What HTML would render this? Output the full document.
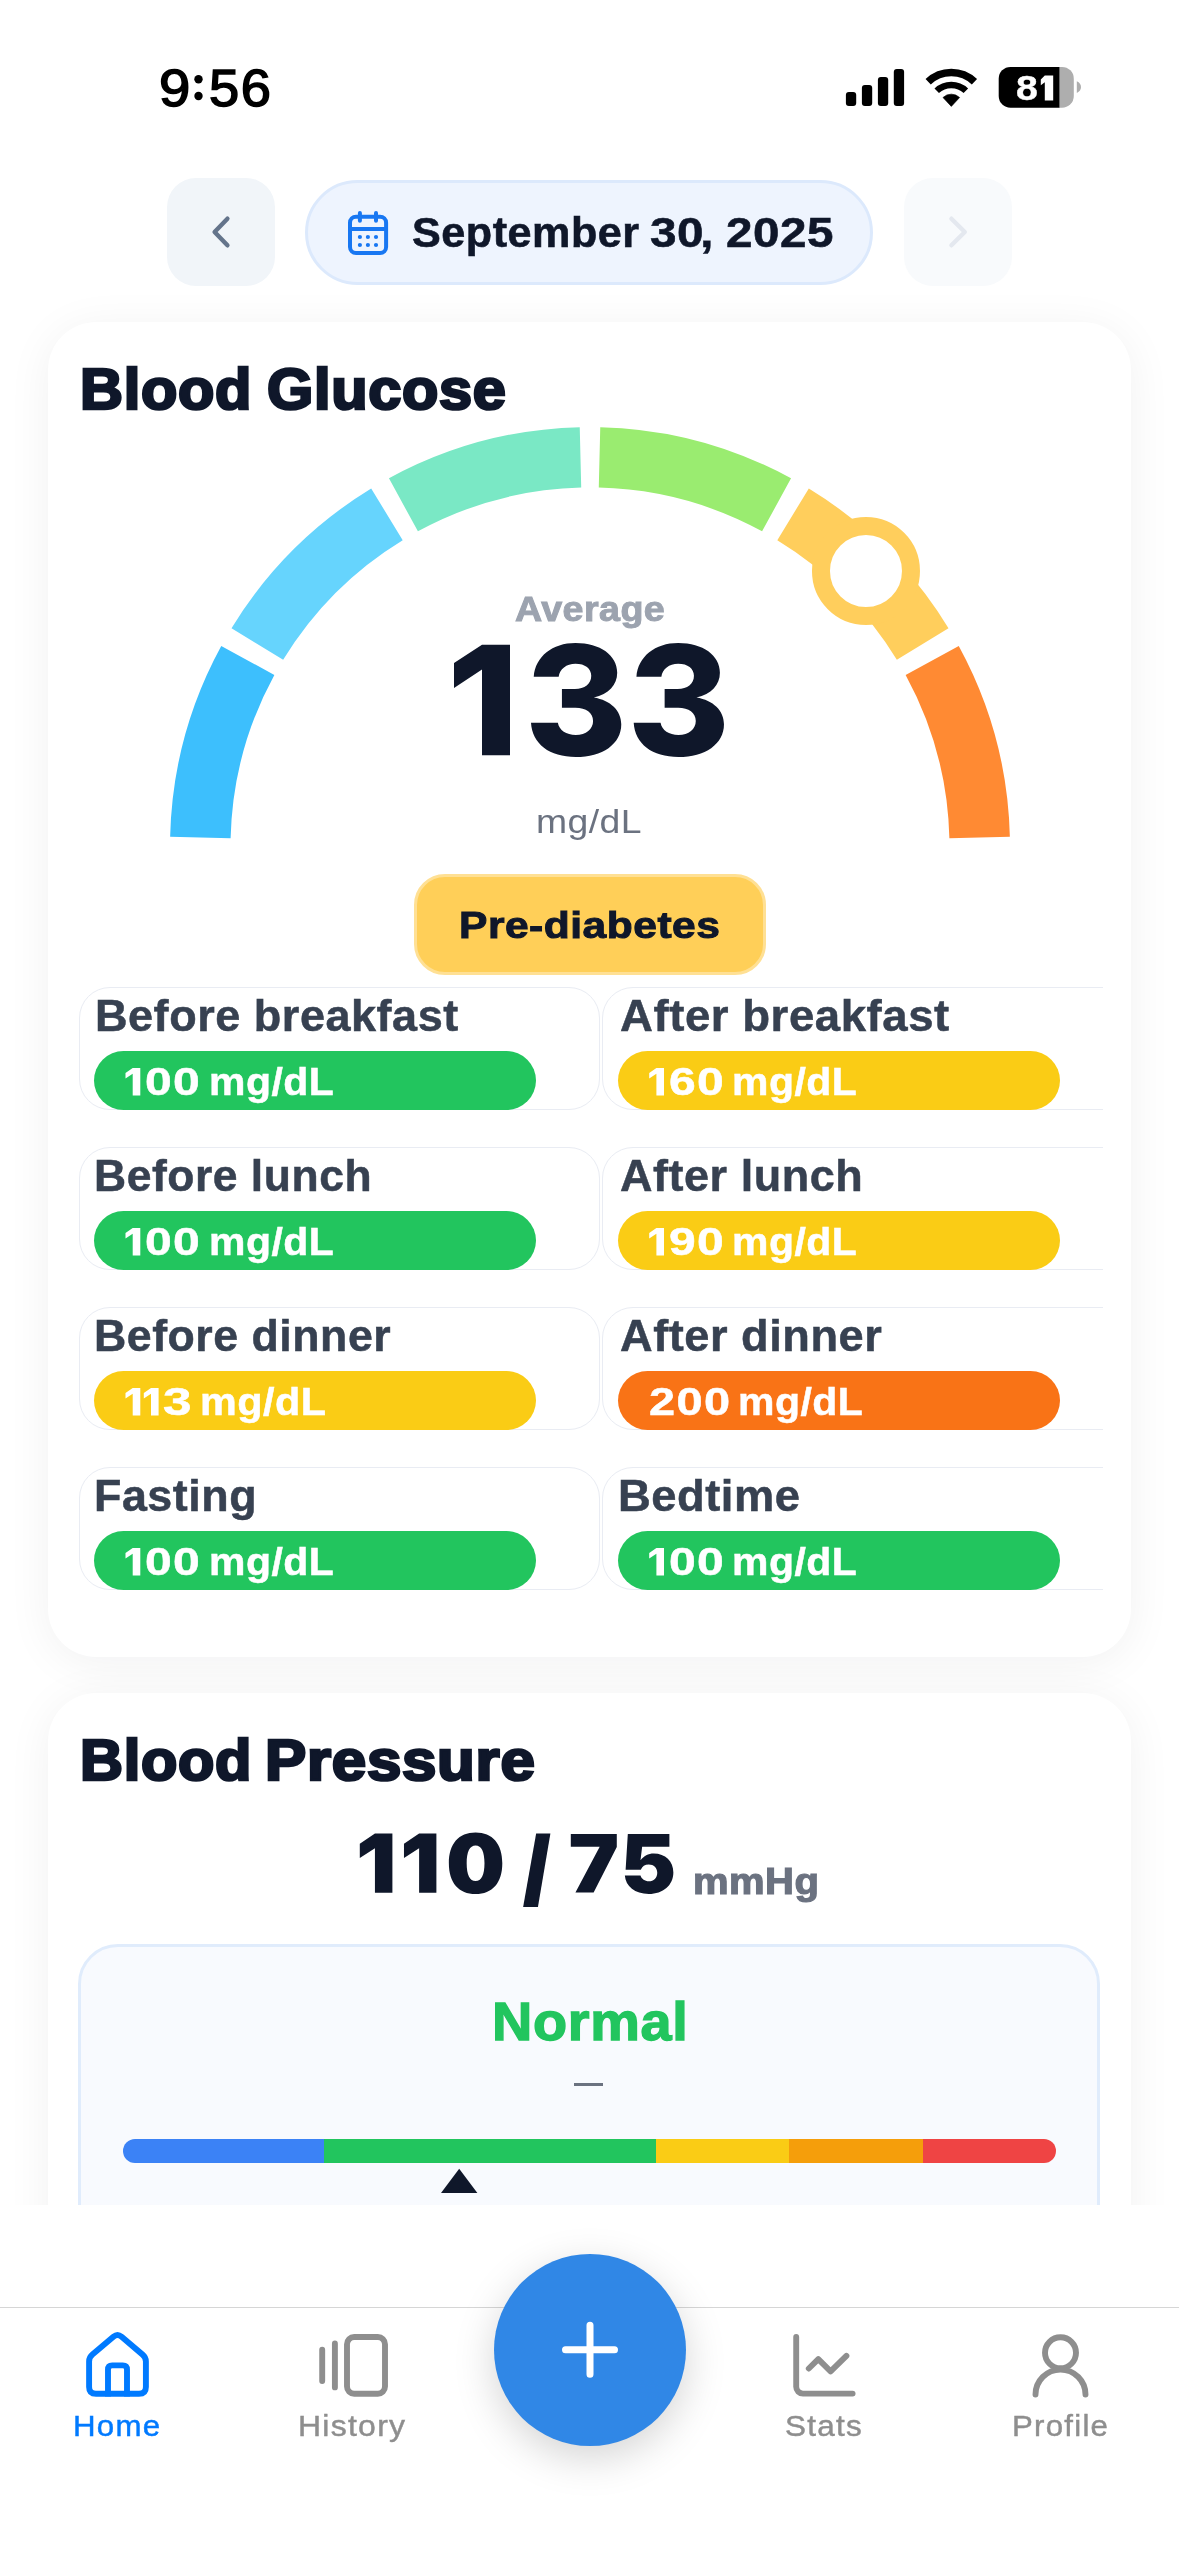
<!DOCTYPE html>
<html><head><meta charset="utf-8"><title>Health</title>
<style>
html,body{margin:0;padding:0;background:#fff;overflow:hidden;}
body{width:1179px;height:2556px;position:relative;overflow:hidden;font-family:"Liberation Sans",sans-serif;}
.t{position:absolute;white-space:nowrap;display:block;will-change:transform;}
.abs{position:absolute;}
.card{position:absolute;left:48px;width:1083px;background:#fff;border-radius:48px;box-shadow:0 6px 46px rgba(15,23,42,0.06);}
.tile{position:absolute;height:123px;box-sizing:border-box;border:1.3px solid #E9ECF3;border-radius:31px;background:#fff;}
.pill{position:absolute;width:442px;height:59px;border-radius:30px;}
.clip{position:absolute;left:48px;top:322px;width:1054.5px;height:1334px;overflow:hidden;}
</style></head><body>
<!-- status bar -->
<svg class="abs" style="left:0;top:0" width="1179" height="160" viewBox="0 0 1179 160">
 <circle cx="198.5" cy="79.2" r="4.2" fill="#000"/><circle cx="198.5" cy="96" r="4.2" fill="#000"/>
 <rect x="845.9" y="91.9" width="10.3" height="14.1" rx="3" fill="#000"/>
 <rect x="861.9" y="84.9" width="10.3" height="21.1" rx="3" fill="#000"/>
 <rect x="877.9" y="76.9" width="10.3" height="29.1" rx="3" fill="#000"/>
 <rect x="893.8" y="68.9" width="10.3" height="37.1" rx="3" fill="#000"/>
 <g fill="none" stroke="#000">
  <path stroke-width="7.6" d="M928.17 81.73 A33.6 33.6 0 0 1 974.43 81.73"/>
  <path stroke-width="6.5" d="M936.74 90.76 A21.15 21.15 0 0 1 965.86 90.76"/>
 </g>
 <path d="M951.3 106.4 L943.0 97.5 A11.9 11.9 0 0 1 959.6 97.5Z" fill="#000" stroke="#000" stroke-width="0.6" stroke-linejoin="round"/>
 <defs><clipPath id="bc"><rect x="998.7" y="66.9" width="75.1" height="40.8" rx="11.8"/></clipPath></defs>
 <g clip-path="url(#bc)"><rect x="990" y="60" width="69.7" height="55" fill="#000"/><rect x="1059.7" y="60" width="20" height="55" fill="#AEAEAE"/></g>
 <path d="M1076.8 81.3 C1082.4 83.3 1082.4 90.9 1076.8 92.9Z" fill="#AEAEAE"/>
 <path d="M1044.8 75.6 H1053.2 V100.5 H1044.8 V82.3 L1040.8 85.2 V79.6Z" fill="#fff"/>
</svg>
<!-- date nav -->
<div class="abs" style="left:167px;top:177.7px;width:108.2px;height:108.2px;border-radius:29px;background:#F1F5F9"></div>
<div class="abs" style="left:904px;top:177.7px;width:108.2px;height:108.2px;border-radius:29px;background:#F8FAFC"></div>
<div class="abs" style="left:305px;top:180px;width:568px;height:104.5px;box-sizing:border-box;border-radius:53px;background:#EEF4FE;border:3px solid #DCE9FC"></div>
<svg class="abs" style="left:0;top:160px" width="1179" height="140" viewBox="0 160 1179 140">
 <path d="M227.4 218.7 L214.6 232 L227.4 245.3" fill="none" stroke="#64748B" stroke-width="4.4" stroke-linecap="round" stroke-linejoin="round"/>
 <path d="M951.4 218.7 L964.8 232 L951.4 245.3" fill="none" stroke="#E4E8EF" stroke-width="4.4" stroke-linecap="round" stroke-linejoin="round"/>
 <g fill="none" stroke="#1877F2" stroke-width="4" stroke-linecap="round">
  <rect x="350" y="216.7" width="36.1" height="36.3" rx="6"/>
  <path d="M350 229 H386 M359.9 213 V220.8 M376 213 V220.8"/>
 </g>
 <g fill="#1877F2"><circle cx="359.9" cy="237" r="2.1"/><circle cx="367.9" cy="237" r="2.1"/><circle cx="376" cy="237" r="2.1"/><circle cx="359.9" cy="245" r="2.1"/><circle cx="367.9" cy="245" r="2.1"/><circle cx="376" cy="245" r="2.1"/></g>
</svg>
<!-- card 1 -->
<div class="card" style="top:322px;height:1335px"></div>
<svg class="abs" style="left:0;top:400px" width="1179" height="470" viewBox="0 400 1179 470">
<path fill="#3DBFFD" d="M170.13 836.74 A420 420 0 0 1 221.25 645.95 L274.37 674.91 A359.5 359.5 0 0 0 230.61 838.22Z"/>
<path fill="#66D4FD" d="M231.51 628.18 A420 420 0 0 1 371.18 488.51 L402.70 540.15 A359.5 359.5 0 0 0 283.15 659.70Z"/>
<path fill="#7AE8C5" d="M388.95 478.25 A420 420 0 0 1 579.74 427.13 L581.22 487.61 A359.5 359.5 0 0 0 417.91 531.37Z"/>
<path fill="#9AEC70" d="M600.26 427.13 A420 420 0 0 1 791.05 478.25 L762.09 531.37 A359.5 359.5 0 0 0 598.78 487.61Z"/>
<path fill="#FFCE5C" d="M808.82 488.51 A420 420 0 0 1 948.49 628.18 L896.85 659.70 A359.5 359.5 0 0 0 777.30 540.15Z"/>
<path fill="#FF8A33" d="M958.75 645.95 A420 420 0 0 1 1009.87 836.74 L949.39 838.22 A359.5 359.5 0 0 0 905.63 674.91Z"/>
<circle cx="865.98" cy="571.02" r="45" fill="#fff" stroke="#FFCE5C" stroke-width="18"/>
</svg>
<div class="abs" style="left:414.2px;top:874.3px;width:351.8px;height:100.3px;box-sizing:border-box;border-radius:31px;background:#FFCF58;border:3px solid #FFE094"></div>
<div class="clip"><div style="position:absolute;left:-48px;top:-322px">
<div class="tile" style="left:78.5px;top:987.4px;width:521.7px"></div>
<div class="pill" style="left:93.9px;top:1051.0px;background:#22C55E"></div>
<div class="tile" style="left:602.2px;top:987.4px;width:560px"></div>
<div class="pill" style="left:617.6px;top:1051.0px;background:#FACC15"></div>
<div class="tile" style="left:78.5px;top:1147.4px;width:521.7px"></div>
<div class="pill" style="left:93.9px;top:1211.0px;background:#22C55E"></div>
<div class="tile" style="left:602.2px;top:1147.4px;width:560px"></div>
<div class="pill" style="left:617.6px;top:1211.0px;background:#FACC15"></div>
<div class="tile" style="left:78.5px;top:1307.4px;width:521.7px"></div>
<div class="pill" style="left:93.9px;top:1371.0px;background:#FACC15"></div>
<div class="tile" style="left:602.2px;top:1307.4px;width:560px"></div>
<div class="pill" style="left:617.6px;top:1371.0px;background:#F97316"></div>
<div class="tile" style="left:78.5px;top:1467.4px;width:521.7px"></div>
<div class="pill" style="left:93.9px;top:1531.0px;background:#22C55E"></div>
<div class="tile" style="left:602.2px;top:1467.4px;width:560px"></div>
<div class="pill" style="left:617.6px;top:1531.0px;background:#22C55E"></div>
</div></div>
<!-- card 2 -->
<div class="card" style="top:1693px;height:700px"></div>
<div class="abs" style="left:78.1px;top:1944.2px;width:1021.6px;height:400px;box-sizing:border-box;border-radius:40px;background:#F8FAFE;border:3px solid #E0ECFC"></div>
<div class="abs" style="left:574px;top:2082.9px;width:29.3px;height:3px;background:#6B7280"></div>
<div class="abs" style="left:122.7px;top:2138.8px;width:933.5px;height:24.1px;border-radius:12.1px;overflow:hidden;background:linear-gradient(90deg,#3B82F6 0 200.5px,#22C55E 200.5px 533.2px,#FACC15 533.2px 666.2px,#F59E0B 666.2px 800.4px,#EF4444 800.4px)"></div>
<svg class="abs" style="left:430px;top:2160px" width="60" height="40" viewBox="430 2160 60 40"><path d="M459.2 2168.7 L477.4 2193 L441 2193Z" fill="#0F172A"/></svg>
<!-- bottom bar -->
<div class="abs" style="left:0;top:2204.5px;width:1179px;height:351.5px;background:#fff"></div>
<div class="abs" style="left:0;top:2306.8px;width:1179px;height:1.2px;background:#D6D6D6"></div>
<div class="abs" style="left:494px;top:2254px;width:192px;height:192px;border-radius:50%;background:#3087E6;box-shadow:0 12px 40px rgba(0,0,0,0.17)"></div>
<svg class="abs" style="left:0;top:2300px" width="1179" height="120" viewBox="0 2300 1179 120">
 <path d="M565.5 2349.8 H614.5 M590 2325.3 V2374.3" stroke="#fff" stroke-width="7" stroke-linecap="round"/>
 <g fill="none" stroke="#007AFF" stroke-width="5.9" stroke-linejoin="round">
  <path d="M96 2393.8 H139 Q145.9 2393.8 145.9 2387 V2361.5 Q145.9 2357.3 142.6 2354.6 L121.6 2336.8 Q117.5 2333.3 113.4 2336.8 L92.4 2354.6 Q89.1 2357.3 89.1 2361.5 V2387 Q89.1 2393.8 96 2393.8Z"/>
  <path d="M108 2396.6 V2369.6 Q108 2365.4 112.2 2365.4 H122.8 Q127 2365.4 127 2369.6 V2396.6"/>
 </g>
 <g fill="none" stroke="#8E8E8E" stroke-width="5.9" stroke-linecap="round" stroke-linejoin="round">
  <path d="M322.2 2349.7 V2381 M334.9 2343.4 V2387.4"/>
  <rect x="347" y="2337" width="38" height="56.8" rx="7.2"/>
  <path d="M796.2 2337 V2386.8 a6.8 6.8 0 0 0 6.8 6.8 H852.6"/>
  <path d="M808.8 2368.5 L818.3 2359.2 L830.6 2371.3 L846.4 2355.8"/>
  <circle cx="1060.5" cy="2352.8" r="15.5"/>
  <path d="M1035.5 2394.6 a25 25 0 0 1 50 0"/>
 </g>
</svg>
<svg class="abs" style="left:0;top:620px" width="1179" height="160" viewBox="0 620 1179 160"><g fill="#0F172A">
<path d="M482 644.8 H510 V755.2 H482 V669.4 L454 688 V663Z"/>
<path transform="translate(520,630) scale(0.10178)" d="M135 460 C150 260 320 128 545 128 C790 128 955 250 955 420 C955 540 870 630 725 662 C890 690 995 790 995 925 C995 1120 810 1248 548 1248 C290 1248 120 1120 108 912 L372 912 C385 985 455 1032 548 1032 C650 1032 718 975 718 895 C718 815 650 765 545 765 L412 765 L412 580 L540 580 C635 580 700 530 700 450 C700 380 640 332 545 332 C455 332 390 385 380 460Z"/>
<path transform="translate(622.7,630) scale(0.10178)" d="M135 460 C150 260 320 128 545 128 C790 128 955 250 955 420 C955 540 870 630 725 662 C890 690 995 790 995 925 C995 1120 810 1248 548 1248 C290 1248 120 1120 108 912 L372 912 C385 985 455 1032 548 1032 C650 1032 718 975 718 895 C718 815 650 765 545 765 L412 765 L412 580 L540 580 C635 580 700 530 700 450 C700 380 640 332 545 332 C455 332 390 385 380 460Z"/>
</g></svg>
<svg class="abs" style="left:0;top:1820px" width="1179" height="100" viewBox="0 1820 1179 100"><g fill="#0F172A">
<g transform="translate(350,1825) scale(0.17813)">
<path d="M140 48 H238 V380 H140 V130 L55 185 V105Z"/>
<path d="M388 48 H485 V380 H388 V130 L303 185 V105Z"/>
<path fill-rule="evenodd" d="M705 42 C800 42 855 105 855 215 C855 325 800 388 705 388 C610 388 555 325 555 215 C555 105 610 42 705 42Z M705 115 C672 115 655 150 655 215 C655 280 672 315 705 315 C738 315 755 280 755 215 C755 150 738 115 705 115Z"/>
<path d="M1045 48 H1125 L1055 460 H972Z"/>
</g>
<g transform="translate(560,1825) scale(0.11027)">
<path d="M98 82 H515 V200 L305 612 H140 L360 198 H98Z"/>
<path d="M615 82 L992 82 L992 198 L745 198 L730 320 C760 280 800 258 850 258 C955 258 1028 330 1028 430 C1028 545 935 625 805 625 C680 625 595 555 588 458 L730 458 C740 490 770 510 805 510 C850 510 882 478 882 432 C882 390 850 358 805 358 C770 358 745 375 733 405 L595 405Z"/>
</g>
</g></svg>
<svg class="abs" style="left:0;top:1040px" width="1179" height="560" viewBox="0 1040 1179 560"><g fill="#fff"><path transform="translate(125.5,1067.9)" d="M7.2 0 H14.8 V27.5 H7.2 V5.9 L0 10.6 V5.1Z"/>
<path transform="translate(649.2,1067.9)" d="M7.2 0 H14.8 V27.5 H7.2 V5.9 L0 10.6 V5.1Z"/>
<path transform="translate(125.5,1227.9)" d="M7.2 0 H14.8 V27.5 H7.2 V5.9 L0 10.6 V5.1Z"/>
<path transform="translate(649.2,1227.9)" d="M7.2 0 H14.8 V27.5 H7.2 V5.9 L0 10.6 V5.1Z"/>
<path transform="translate(125.5,1387.9)" d="M7.2 0 H14.8 V27.5 H7.2 V5.9 L0 10.6 V5.1Z"/>
<path transform="translate(143.8,1387.9)" d="M7.2 0 H14.8 V27.5 H7.2 V5.9 L0 10.6 V5.1Z"/>
<path transform="translate(125.5,1547.9)" d="M7.2 0 H14.8 V27.5 H7.2 V5.9 L0 10.6 V5.1Z"/>
<path transform="translate(649.2,1547.9)" d="M7.2 0 H14.8 V27.5 H7.2 V5.9 L0 10.6 V5.1Z"/></g></svg>
<span class="t" style="left:158.67px;top:62.01px;font-size:52.3px;line-height:52px;font-weight:400;color:#000;letter-spacing:0.000px;-webkit-text-stroke:1.5px #000;transform:scaleX(1.0763);transform-origin:0 0;">9</span>
<span class="t" style="left:208.78px;top:62.01px;font-size:52.3px;line-height:52px;font-weight:400;color:#000;letter-spacing:1.569px;-webkit-text-stroke:1.5px #000;transform:scaleX(1.0385);transform-origin:0 0;">56</span>
<span class="t" style="left:1015.99px;top:70.00px;font-size:35.5px;line-height:36px;font-weight:700;color:#fff;letter-spacing:0.000px;-webkit-text-stroke:0.4px #fff;transform:scaleX(1.1074);transform-origin:0 0;">8</span>
<span class="t" style="left:411.73px;top:211.01px;font-size:42.6px;line-height:43px;font-weight:700;color:#0F172A;letter-spacing:0.511px;-webkit-text-stroke:0.6px #0F172A;transform:scaleX(1.0125);transform-origin:0 0;">September</span>
<span class="t" style="left:649.79px;top:211.02px;font-size:43.2px;line-height:43px;font-weight:700;color:#0F172A;letter-spacing:0.518px;-webkit-text-stroke:0.6px #0F172A;transform:scaleX(1.1039);transform-origin:0 0;">30</span>
<span class="t" style="left:700.39px;top:211.01px;font-size:42.6px;line-height:43px;font-weight:700;color:#0F172A;letter-spacing:1.014px;-webkit-text-stroke:0.4px #0F172A;transform:scaleX(1.1400);transform-origin:0 0;">,</span>
<span class="t" style="left:725.84px;top:211.02px;font-size:43.2px;line-height:43px;font-weight:700;color:#0F172A;letter-spacing:0.518px;-webkit-text-stroke:0.6px #0F172A;transform:scaleX(1.1009);transform-origin:0 0;">2025</span>
<span class="t" style="left:79.68px;top:360.01px;font-size:57.5px;line-height:58px;font-weight:700;color:#0F172A;letter-spacing:0.690px;-webkit-text-stroke:2.7px #0F172A;transform:scaleX(1.0350);transform-origin:0 0;">Blood</span>
<span class="t" style="left:267.34px;top:360.01px;font-size:57.5px;line-height:58px;font-weight:700;color:#0F172A;letter-spacing:0.690px;-webkit-text-stroke:2.7px #0F172A;transform:scaleX(1.0339);transform-origin:0 0;">Glucose</span>
<span class="t" style="left:514.54px;top:591.01px;font-size:35.5px;line-height:36px;font-weight:700;color:#9CA3AF;letter-spacing:0.426px;-webkit-text-stroke:1.0px #9CA3AF;transform:scaleX(1.0595);transform-origin:0 0;">Average</span>
<span class="t" style="left:535.87px;top:804.01px;font-size:34px;line-height:34px;font-weight:400;color:#6B7280;letter-spacing:0.408px;transform:scaleX(1.0982);transform-origin:0 0;">mg/dL</span>
<span class="t" style="left:459.11px;top:906.01px;font-size:37.6px;line-height:38px;font-weight:700;color:#0F172A;letter-spacing:0.451px;-webkit-text-stroke:1.0px #0F172A;transform:scaleX(1.1318);transform-origin:0 0;">Pre-diabetes</span>
<span class="t" style="left:79.68px;top:1731.02px;font-size:57.5px;line-height:58px;font-weight:700;color:#0F172A;letter-spacing:0.690px;-webkit-text-stroke:2.7px #0F172A;transform:scaleX(1.0350);transform-origin:0 0;">Blood</span>
<span class="t" style="left:265.19px;top:1731.02px;font-size:57.5px;line-height:58px;font-weight:700;color:#0F172A;letter-spacing:0.690px;-webkit-text-stroke:2.7px #0F172A;transform:scaleX(1.0750);transform-origin:0 0;">Pressure</span>
<span class="t" style="left:693.37px;top:1864.01px;font-size:36px;line-height:36px;font-weight:700;color:#6B7280;letter-spacing:0.432px;-webkit-text-stroke:1.2px #6B7280;transform:scaleX(1.1114);transform-origin:0 0;">mmHg</span>
<span class="t" style="left:491.83px;top:1995.01px;font-size:54.5px;line-height:54px;font-weight:700;color:#22C55E;letter-spacing:0.654px;-webkit-text-stroke:1.4px #22C55E;transform:scaleX(1.0247);transform-origin:0 0;">Normal</span>
<span class="t" style="left:73.49px;top:2411.01px;font-size:30px;line-height:30px;font-weight:400;color:#007AFF;letter-spacing:1.200px;-webkit-text-stroke:0.45px #007AFF;transform:scaleX(1.0420);transform-origin:0 0;">Home</span>
<span class="t" style="left:298.24px;top:2411.01px;font-size:30px;line-height:30px;font-weight:400;color:#8E8E8E;letter-spacing:1.200px;-webkit-text-stroke:0.45px #8E8E8E;transform:scaleX(1.0644);transform-origin:0 0;">History</span>
<span class="t" style="left:785.35px;top:2411.01px;font-size:30px;line-height:30px;font-weight:400;color:#8E8E8E;letter-spacing:1.200px;-webkit-text-stroke:0.45px #8E8E8E;transform:scaleX(1.0482);transform-origin:0 0;">Stats</span>
<span class="t" style="left:1011.80px;top:2411.01px;font-size:30px;line-height:30px;font-weight:400;color:#8E8E8E;letter-spacing:1.200px;-webkit-text-stroke:0.45px #8E8E8E;transform:scaleX(1.0401);transform-origin:0 0;">Profile</span>
<span class="t" style="left:95.04px;top:994.00px;font-size:44px;line-height:44px;font-weight:700;color:#374151;letter-spacing:0.528px;-webkit-text-stroke:0.5px #374151;transform:scaleX(1.0227);transform-origin:0 0;">Before breakfast</span>
<span class="t" style="left:145.41px;top:1063.01px;font-size:38.4px;line-height:38px;font-weight:700;color:#fff;letter-spacing:1.152px;-webkit-text-stroke:0.5px #fff;transform:scaleX(1.2498);transform-origin:0 0;">00</span>
<span class="t" style="left:208.51px;top:1063.01px;font-size:38.4px;line-height:38px;font-weight:700;color:#fff;letter-spacing:0.461px;-webkit-text-stroke:0.5px #fff;transform:scaleX(1.0667);transform-origin:0 0;">mg/dL</span>
<span class="t" style="left:620.15px;top:994.00px;font-size:44px;line-height:44px;font-weight:700;color:#374151;letter-spacing:0.528px;-webkit-text-stroke:0.5px #374151;transform:scaleX(1.0354);transform-origin:0 0;">After breakfast</span>
<span class="t" style="left:669.11px;top:1063.01px;font-size:38.4px;line-height:38px;font-weight:700;color:#fff;letter-spacing:1.152px;-webkit-text-stroke:0.5px #fff;transform:scaleX(1.2498);transform-origin:0 0;">60</span>
<span class="t" style="left:732.21px;top:1063.01px;font-size:38.4px;line-height:38px;font-weight:700;color:#fff;letter-spacing:0.461px;-webkit-text-stroke:0.5px #fff;transform:scaleX(1.0667);transform-origin:0 0;">mg/dL</span>
<span class="t" style="left:94.37px;top:1154.00px;font-size:44px;line-height:44px;font-weight:700;color:#374151;letter-spacing:0.528px;-webkit-text-stroke:0.5px #374151;transform:scaleX(1.0102);transform-origin:0 0;">Before lunch</span>
<span class="t" style="left:145.41px;top:1223.01px;font-size:38.4px;line-height:38px;font-weight:700;color:#fff;letter-spacing:1.152px;-webkit-text-stroke:0.5px #fff;transform:scaleX(1.2498);transform-origin:0 0;">00</span>
<span class="t" style="left:208.51px;top:1223.01px;font-size:38.4px;line-height:38px;font-weight:700;color:#fff;letter-spacing:0.461px;-webkit-text-stroke:0.5px #fff;transform:scaleX(1.0667);transform-origin:0 0;">mg/dL</span>
<span class="t" style="left:620.05px;top:1154.00px;font-size:44px;line-height:44px;font-weight:700;color:#374151;letter-spacing:0.528px;-webkit-text-stroke:0.5px #374151;transform:scaleX(1.0217);transform-origin:0 0;">After lunch</span>
<span class="t" style="left:669.11px;top:1223.01px;font-size:38.4px;line-height:38px;font-weight:700;color:#fff;letter-spacing:1.152px;-webkit-text-stroke:0.5px #fff;transform:scaleX(1.2498);transform-origin:0 0;">90</span>
<span class="t" style="left:732.21px;top:1223.01px;font-size:38.4px;line-height:38px;font-weight:700;color:#fff;letter-spacing:0.461px;-webkit-text-stroke:0.5px #fff;transform:scaleX(1.0667);transform-origin:0 0;">mg/dL</span>
<span class="t" style="left:94.36px;top:1314.00px;font-size:44px;line-height:44px;font-weight:700;color:#374151;letter-spacing:0.528px;-webkit-text-stroke:0.5px #374151;transform:scaleX(1.0145);transform-origin:0 0;">Before dinner</span>
<span class="t" style="left:162.83px;top:1383.01px;font-size:38.4px;line-height:38px;font-weight:700;color:#fff;letter-spacing:1.152px;-webkit-text-stroke:0.5px #fff;transform:scaleX(1.3350);transform-origin:0 0;">3</span>
<span class="t" style="left:200.29px;top:1383.01px;font-size:38.4px;line-height:38px;font-weight:700;color:#fff;letter-spacing:0.461px;-webkit-text-stroke:0.5px #fff;transform:scaleX(1.0763);transform-origin:0 0;">mg/dL</span>
<span class="t" style="left:620.05px;top:1314.00px;font-size:44px;line-height:44px;font-weight:700;color:#374151;letter-spacing:0.528px;-webkit-text-stroke:0.5px #374151;transform:scaleX(1.0258);transform-origin:0 0;">After dinner</span>
<span class="t" style="left:649.14px;top:1383.01px;font-size:38.4px;line-height:38px;font-weight:700;color:#fff;letter-spacing:1.152px;-webkit-text-stroke:0.5px #fff;transform:scaleX(1.2212);transform-origin:0 0;">200</span>
<span class="t" style="left:737.50px;top:1383.01px;font-size:38.4px;line-height:38px;font-weight:700;color:#fff;letter-spacing:0.461px;-webkit-text-stroke:0.5px #fff;transform:scaleX(1.0675);transform-origin:0 0;">mg/dL</span>
<span class="t" style="left:94.45px;top:1474.00px;font-size:44px;line-height:44px;font-weight:700;color:#374151;letter-spacing:0.528px;-webkit-text-stroke:0.5px #374151;transform:scaleX(1.0184);transform-origin:0 0;">Fasting</span>
<span class="t" style="left:145.41px;top:1543.01px;font-size:38.4px;line-height:38px;font-weight:700;color:#fff;letter-spacing:1.152px;-webkit-text-stroke:0.5px #fff;transform:scaleX(1.2498);transform-origin:0 0;">00</span>
<span class="t" style="left:208.51px;top:1543.01px;font-size:38.4px;line-height:38px;font-weight:700;color:#fff;letter-spacing:0.461px;-webkit-text-stroke:0.5px #fff;transform:scaleX(1.0667);transform-origin:0 0;">mg/dL</span>
<span class="t" style="left:618.13px;top:1474.00px;font-size:44px;line-height:44px;font-weight:700;color:#374151;letter-spacing:0.528px;-webkit-text-stroke:0.5px #374151;transform:scaleX(1.0293);transform-origin:0 0;">Bedtime</span>
<span class="t" style="left:669.11px;top:1543.01px;font-size:38.4px;line-height:38px;font-weight:700;color:#fff;letter-spacing:1.152px;-webkit-text-stroke:0.5px #fff;transform:scaleX(1.2498);transform-origin:0 0;">00</span>
<span class="t" style="left:732.21px;top:1543.01px;font-size:38.4px;line-height:38px;font-weight:700;color:#fff;letter-spacing:0.461px;-webkit-text-stroke:0.5px #fff;transform:scaleX(1.0667);transform-origin:0 0;">mg/dL</span>
</body></html>
